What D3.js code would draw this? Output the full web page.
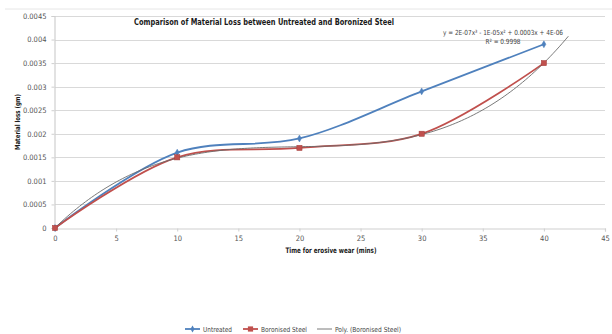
<!DOCTYPE html>
<html>
<head>
<meta charset="utf-8">
<script src="https://cdn.jsdelivr.net/npm/d3@7"></script>
<style>
  html, body { margin: 0; padding: 0; background: #fff; }
  svg { display: block; }
  text { font-family: "DejaVu Sans Condensed", "Liberation Sans", sans-serif; }
</style>
</head>
<body>
<svg id="chart" width="612" height="334"></svg>
<script>
// Erosive wear test results
const timeMins = [0, 10, 20, 30, 40];
const untreatedLoss = [0, 0.0016, 0.0019, 0.0029, 0.0039];
const boronisedLoss = [0, 0.0015, 0.0017, 0.0020, 0.0035];
const xTicks = [0, 5, 10, 15, 20, 25, 30, 35, 40, 45];
const yTicks = [0, 0.0005, 0.001, 0.0015, 0.002, 0.0025, 0.003, 0.0035, 0.004, 0.0045];
const yTickLabels = ["0", "0.0005", "0.001", "0.0015", "0.002", "0.0025", "0.003", "0.0035", "0.004", "0.0045"];
const trendEquation = "y = 2E-07x³ - 1E-05x² + 0.0003x + 4E-06";
const trendR2 = "R² = 0.9998";
const trendForward = 2; // trendline projected 2 mins beyond last point

const svg = d3.select("#chart");
const plotLeft = 55, plotRight = 605, plotTop = 16, plotBottom = 228;

const x = d3.scaleLinear().domain([0, 45]).range([plotLeft, plotRight]);
const y = d3.scaleLinear().domain([0, 0.0045]).range([plotBottom, plotTop]);

// narrow text helper: squeeze glyphs to a given width
function squeeze(sel, w) {
  return sel.attr("textLength", w).attr("lengthAdjust", "spacingAndGlyphs");
}

// faint outer frame line
svg.append("line").attr("x1", 5).attr("x2", 612).attr("y1", 9).attr("y2", 9)
  .attr("stroke", "#e6e6e6").attr("stroke-width", 1);

// horizontal gridlines
svg.append("g").selectAll("line").data(yTicks.slice(1)).join("line")
  .attr("x1", plotLeft).attr("x2", plotRight)
  .attr("y1", d => Math.round(y(d)) + 0.5).attr("y2", d => Math.round(y(d)) + 0.5)
  .attr("stroke", "#d9d9d9").attr("stroke-width", 1.2);

// x axis
const xAxis = d3.axisBottom(x).tickValues(xTicks).tickSize(3).tickPadding(4).tickFormat(d3.format("d"));
const gx = svg.append("g").attr("transform", `translate(0,${plotBottom + 0.5})`).call(xAxis);
gx.select(".domain").attr("stroke", "#cfcfcf").attr("stroke-width", 1.2);
gx.selectAll(".tick line").attr("stroke", "#cfcfcf");
gx.selectAll(".tick text").attr("fill", "#555").attr("font-size", 7.5)
  .attr("font-family", "Liberation Sans Narrow, DejaVu Sans Condensed, sans-serif");

// y axis
const yAxis = d3.axisLeft(y).tickValues(yTicks).tickSize(3).tickPadding(5)
  .tickFormat((d, i) => yTickLabels[i]);
const gy = svg.append("g").attr("transform", `translate(${plotLeft - 0.5},0)`).call(yAxis);
gy.select(".domain").attr("stroke", "#cfcfcf").attr("stroke-width", 1.2);
gy.selectAll(".tick line").attr("stroke", "#cfcfcf");
gy.selectAll(".tick text").attr("fill", "#555").attr("font-size", 7.5)
  .attr("font-family", "Liberation Sans Narrow, DejaVu Sans Condensed, sans-serif");

// cubic least-squares trendline for the boronised series
function polyFit(xs, ys, deg) {
  const n = deg + 1;
  const A = Array.from({length: n}, () => new Array(n + 1).fill(0));
  for (let r = 0; r < n; r++) {
    for (let c = 0; c < n; c++) A[r][c] = d3.sum(xs, v => Math.pow(v, r + c));
    A[r][n] = d3.sum(xs, (v, i) => ys[i] * Math.pow(v, r));
  }
  for (let i = 0; i < n; i++) {
    let p = i;
    for (let k = i + 1; k < n; k++) if (Math.abs(A[k][i]) > Math.abs(A[p][i])) p = k;
    [A[i], A[p]] = [A[p], A[i]];
    for (let k = i + 1; k < n; k++) {
      const f = A[k][i] / A[i][i];
      for (let c = i; c <= n; c++) A[k][c] -= f * A[i][c];
    }
  }
  const coef = new Array(n).fill(0);
  for (let i = n - 1; i >= 0; i--) {
    let s = A[i][n];
    for (let c = i + 1; c < n; c++) s -= A[i][c] * coef[c];
    coef[i] = s / A[i][i];
  }
  return coef;
}
const coef = polyFit(timeMins, boronisedLoss, 3);
const polyAt = t => coef.reduce((s, c, i) => s + c * Math.pow(t, i), 0);
const trendEnd = d3.max(timeMins) + trendForward;
const trendPts = d3.range(0, trendEnd + 0.001, 0.25).map(t => [t, polyAt(t)]);

const smooth = d3.line().x(d => x(d[0])).y(d => y(d[1])).curve(d3.curveCatmullRom.alpha(0.5));
const plain = d3.line().x(d => x(d[0])).y(d => y(d[1]));

const blue = "#4f81bd", red = "#c0504d", gray = "#6b6b6b";

const uPts = timeMins.map((t, i) => [t, untreatedLoss[i]]);
const bPts = timeMins.map((t, i) => [t, boronisedLoss[i]]);

svg.append("path").attr("d", smooth(uPts)).attr("fill", "none")
  .attr("stroke", blue).attr("stroke-width", 1.8);
svg.append("path").attr("d", smooth(bPts)).attr("fill", "none")
  .attr("stroke", red).attr("stroke-width", 1.8);
svg.append("path").attr("d", plain(trendPts)).attr("fill", "none")
  .attr("stroke", gray).attr("stroke-width", 0.9);

// markers
const diamond = d3.symbol().type(d3.symbolDiamond).size(14);
svg.append("g").selectAll("path").data(uPts).join("path")
  .attr("d", diamond).attr("transform", d => `translate(${x(d[0])},${y(d[1])})`)
  .attr("fill", blue).attr("stroke", blue).attr("stroke-width", 0.5);
svg.append("g").selectAll("rect").data(bPts).join("rect")
  .attr("x", d => x(d[0]) - 2.6).attr("y", d => y(d[1]) - 2.6)
  .attr("width", 5.2).attr("height", 5.2)
  .attr("fill", red).attr("stroke", "#a33d3a").attr("stroke-width", 0.5);

// title
squeeze(svg.append("text").attr("x", 264).attr("y", 25).attr("text-anchor", "middle")
  .attr("font-size", 8.5).attr("font-weight", "bold").attr("fill", "#1a1a1a")
  .text("Comparison of Material Loss between Untreated and Boronized Steel"), 260);

// trendline equation
squeeze(svg.append("text").attr("x", 503).attr("y", 34.5).attr("text-anchor", "middle")
  .attr("font-size", 7).attr("fill", "#444").text(trendEquation), 120);
squeeze(svg.append("text").attr("x", 503).attr("y", 43.5).attr("text-anchor", "middle")
  .attr("font-size", 7).attr("fill", "#444").text(trendR2), 35);

// axis titles
squeeze(svg.append("text").attr("transform", `translate(20,122) rotate(-90)`).attr("text-anchor", "middle")
  .attr("font-size", 7).attr("font-weight", "bold").attr("fill", "#1a1a1a")
  .text("Material loss (gm)"), 56);
squeeze(svg.append("text").attr("x", 331).attr("y", 253).attr("text-anchor", "middle")
  .attr("font-size", 7.5).attr("font-weight", "bold").attr("fill", "#1a1a1a")
  .text("Time for erosive wear (mins)"), 91);

// legend
const legend = [
  {label: "Untreated", color: blue, w: 1.8, mark: "diamond", x: 185, tw: 29},
  {label: "Boronised Steel", color: red, w: 1.8, mark: "square", x: 243, tw: 46},
  {label: "Poly. (Boronised Steel)", color: gray, w: 0.9, mark: null, x: 317, tw: 66}
];
const ly = 329;
const lg = svg.append("g").selectAll("g").data(legend).join("g")
  .attr("transform", d => `translate(${d.x},${ly})`);
lg.append("line").attr("x1", 0).attr("x2", 15).attr("y1", 0).attr("y2", 0)
  .attr("stroke", d => d.color).attr("stroke-width", d => d.w);
lg.filter(d => d.mark === "diamond").append("path").attr("d", diamond)
  .attr("transform", "translate(7.5,0)").attr("fill", d => d.color);
lg.filter(d => d.mark === "square").append("rect").attr("x", 4.9).attr("y", -2.6)
  .attr("width", 5.2).attr("height", 5.2).attr("fill", d => d.color);
lg.append("text").attr("x", 18).attr("y", 2.5).attr("font-size", 7).attr("fill", "#444")
  .attr("textLength", d => d.tw).attr("lengthAdjust", "spacingAndGlyphs")
  .text(d => d.label);
</script>
</body>
</html>
